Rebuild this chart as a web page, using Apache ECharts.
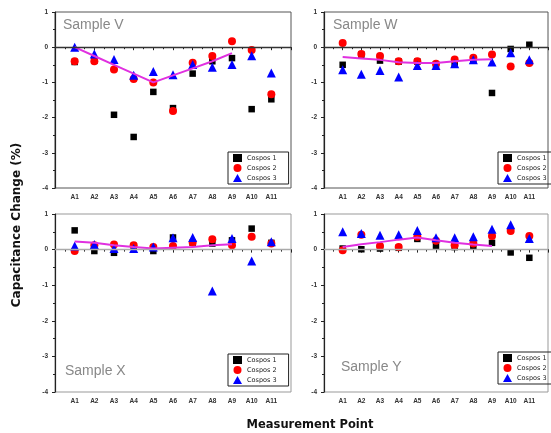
<!DOCTYPE html>
<html>
<head>
<meta charset="utf-8">
<script src="https://cdn.jsdelivr.net/npm/echarts@6/dist/echarts.min.js"></script>
<style>
html, body { margin: 0; padding: 0; background: #fff; }
#chart { width: 551px; height: 433px; }
</style>
</head>
<body>
<div id="chart"></div>
<script>
const xLabels = ['A1', 'A2', 'A3', 'A4', 'A5', 'A6', 'A7', 'A8', 'A9', 'A10', 'A11'];
const seriesNames = ['Cospos 1', 'Cospos 2', 'Cospos 3'];

// Sample V
const vCospos1 = [-0.42, -0.38, -1.92, -2.55, -1.27, -1.73, -0.75, -0.40, -0.31, -1.76, -1.48];
const vCospos2 = [-0.40, -0.40, -0.63, -0.90, -1.00, -1.81, -0.44, -0.25, 0.17, -0.08, -1.34];
const vCospos3 = [0.00, -0.19, -0.35, -0.80, -0.69, -0.78, -0.49, -0.57, -0.49, -0.24, -0.73];
const vTrend = [0.00, -0.25, -0.50, -0.75, -1.00, -0.80, -0.60, -0.40, -0.17];

// Sample W
const wCospos1 = [-0.50, -0.21, -0.38, -0.41, -0.41, -0.49, -0.47, -0.36, -1.30, -0.05, 0.07];
const wCospos2 = [0.12, -0.19, -0.25, -0.40, -0.40, -0.47, -0.35, -0.30, -0.21, -0.55, -0.45];
const wCospos3 = [-0.64, -0.77, -0.66, -0.85, -0.52, -0.52, -0.47, -0.36, -0.42, -0.16, -0.36];
const wTrend = [-0.28, -0.32, -0.36, -0.43, -0.45, -0.45, -0.40, -0.36, -0.34];

// Sample X
const xCospos1 = [0.54, -0.04, -0.09, 0.10, -0.04, 0.34, 0.19, 0.17, 0.26, 0.59, 0.19];
const xCospos2 = [-0.04, 0.12, 0.14, 0.12, 0.07, 0.10, 0.20, 0.29, 0.12, 0.36, 0.17];
const xCospos3 = [0.10, 0.14, 0.03, 0.03, 0.07, 0.33, 0.34, -1.16, 0.31, -0.32, 0.22];
const xTrend = [0.23, 0.19, 0.12, 0.07, 0.03, 0.05, 0.07, 0.12, 0.15];

// Sample Y
const yCospos1 = [0.03, 0.01, 0.03, 0.05, 0.30, 0.10, 0.07, 0.10, 0.19, -0.08, -0.23];
const yCospos2 = [-0.02, 0.42, 0.10, 0.07, 0.36, 0.25, 0.12, 0.17, 0.38, 0.52, 0.38];
const yCospos3 = [0.50, 0.45, 0.40, 0.42, 0.54, 0.33, 0.33, 0.36, 0.57, 0.70, 0.31];
const yTrend = [0.07, 0.15, 0.21, 0.28, 0.34, 0.26, 0.19, 0.14, 0.10];

const panels = [
  { title: 'Sample V', data: [vCospos1, vCospos2, vCospos3], trend: vTrend,
    grid: { left: 55, top: 12, width: 236, height: 176 }, zero: '#333', border: '#555',
    legend: { left: 228, top: 152 }, label: [63, 26] },
  { title: 'Sample W', data: [wCospos1, wCospos2, wCospos3], trend: wTrend,
    grid: { left: 324, top: 12, width: 236, height: 176 }, zero: '#333', border: '#555',
    legend: { left: 498, top: 152 }, label: [333, 26] },
  { title: 'Sample X', data: [xCospos1, xCospos2, xCospos3], trend: xTrend,
    grid: { left: 55, top: 214, width: 236, height: 178 }, zero: '#aaa', border: '#999',
    legend: { left: 228, top: 354 }, label: [65, 372] },
  { title: 'Sample Y', data: [yCospos1, yCospos2, yCospos3], trend: yTrend,
    grid: { left: 324, top: 214, width: 236, height: 178 }, zero: '#aaa', border: '#999',
    legend: { left: 498, top: 352 }, label: [341, 368] }
];

const markers = [
  { symbol: 'rect', size: 6.5, color: '#000000' },
  { symbol: 'circle', size: 8, color: '#ff0000' },
  { symbol: 'triangle', size: 9, color: '#0000ff' }
];

const tickFont = { fontSize: 6.5, fontWeight: 'bold', color: '#333', fontFamily: 'Liberation Sans' };

const option = {
  animation: false,
  grid: panels.map(p => Object.assign({ show: true, borderColor: p.border, borderWidth: 1 }, p.grid)),
  xAxis: panels.map((p, i) => ({
    type: 'value', gridIndex: i, min: 0, max: 12, interval: 1,
    splitLine: { show: false },
    axisLine: { lineStyle: { color: '#222', width: 1.2 } },
    axisTick: { length: 3, lineStyle: { color: '#222' } },
    minorTick: { show: true, splitNumber: 2, length: 2, lineStyle: { color: '#222' } },
    axisLabel: Object.assign({ margin: 6, formatter: v => xLabels[v - 1] || '' }, tickFont)
  })),
  yAxis: panels.map((p, i) => ({
    type: 'value', gridIndex: i, min: -4, max: 1, interval: 1,
    splitLine: { show: false },
    axisLine: { show: true, lineStyle: { color: '#222', width: 1.2 } },
    axisTick: { show: true, length: 3, lineStyle: { color: '#222' } },
    minorTick: { show: true, splitNumber: 2, length: 2, lineStyle: { color: '#222' } },
    axisLabel: Object.assign({ margin: 7 }, tickFont)
  })),
  legend: panels.map(p => ({
    left: p.legend.left, top: p.legend.top, orient: 'vertical',
    borderColor: '#222', borderWidth: 1, padding: [2, 12, 2, 5],
    itemWidth: 9, itemHeight: 8, itemGap: 2, selectedMode: false,
    textStyle: { fontSize: 6.5, color: '#222', fontFamily: 'DejaVu Sans' },
    data: seriesNames.map((n, k) => ({ name: n, icon: markers[k].symbol,
      itemStyle: { color: markers[k].color, opacity: 1 } }))
  })),
  series: [],
  graphic: []
};

panels.forEach((p, i) => {
  p.data.forEach((vals, k) => {
    option.series.push({
      name: seriesNames[k], type: 'scatter', xAxisIndex: i, yAxisIndex: i,
      symbol: markers[k].symbol, symbolSize: markers[k].size,
      itemStyle: { color: markers[k].color, opacity: 1 },
      data: vals.map((v, j) => [j + 1, v])
    });
  });
  option.series.push({
    name: 'trend', type: 'line', xAxisIndex: i, yAxisIndex: i, z: 3,
    symbol: 'none', lineStyle: { color: '#e030e0', width: 2 },
    data: p.trend.map((v, j) => [j + 1, v]),
    markLine: {
      silent: true, symbol: ['none', 'none'], label: { show: false },
      lineStyle: { color: p.zero, width: 1.3, type: 'solid' },
      data: [{ yAxis: 0 }]
    }
  });
  option.graphic.push({
    type: 'text', left: p.label[0], top: p.label[1] - 8,
    style: { text: p.title, fontSize: 14, fill: '#888', fontFamily: 'Liberation Sans' }
  });
});

option.graphic.push({
  type: 'text', x: 17, y: 225, rotation: Math.PI / 2,
  style: { text: 'Capacitance Change (%)', fontSize: 12, fontWeight: 'bold', fill: '#111',
    fontFamily: 'DejaVu Sans', align: 'center', verticalAlign: 'middle' }
});
option.graphic.push({
  type: 'text', x: 310, y: 425,
  style: { text: 'Measurement Point', fontSize: 11.5, fontWeight: 'bold', fill: '#111',
    fontFamily: 'DejaVu Sans', align: 'center', verticalAlign: 'middle' }
});

const chart = echarts.init(document.getElementById('chart'), null, { renderer: 'canvas' });
chart.setOption(option);
</script>
</body>
</html>
